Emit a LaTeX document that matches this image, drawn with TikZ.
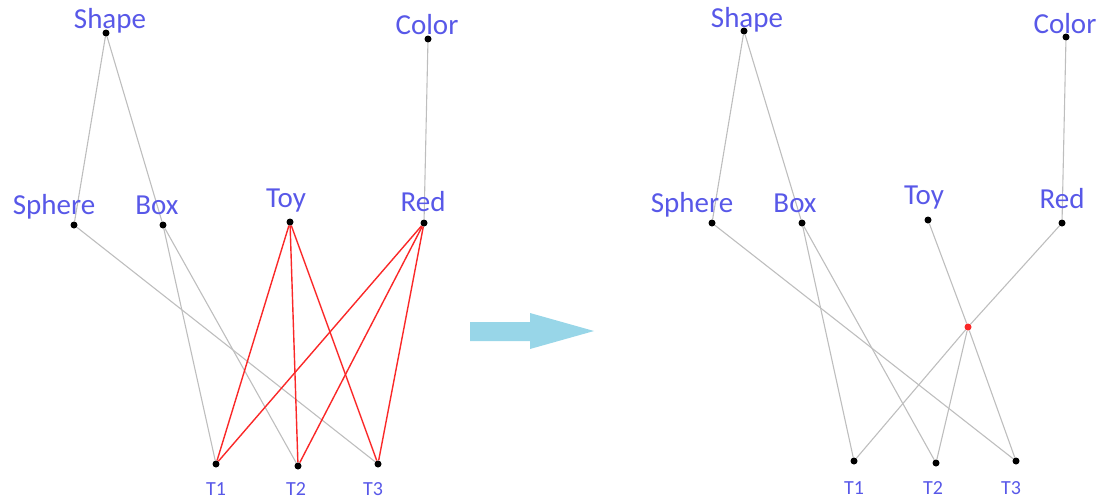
\documentclass[tikz,border=0pt]{standalone}
\usepackage{fontspec}
\setmainfont{Carlito}
\usetikzlibrary{backgrounds}
\definecolor{labelblue}{RGB}{88,88,232}
\definecolor{edgegray}{RGB}{190,190,190}
\definecolor{hotred}{RGB}{250,40,40}
\definecolor{arrowblue}{RGB}{152,214,232}
\tikzset{
  vert/.style={circle,fill=black,inner sep=0pt,minimum size=7pt},
  hub/.style={circle,fill=hotred,inner sep=0pt,minimum size=7pt},
  lab/.style={anchor=base,inner sep=0pt,text=labelblue,font=\fontsize{29}{31}\selectfont},
  tlab/.style={anchor=base,inner sep=0pt,text=labelblue,font=\fontsize{20}{22}\selectfont},
  link/.style={draw=edgegray,line width=1.1pt},
  hot/.style={draw=hotred,line width=1.4pt},
}
\begin{document}
\begin{tikzpicture}[x=1pt,y=-1pt]
\useasboundingbox (0,0) rectangle (1102,499);

% ---------- left graph ----------
\node[vert] (ashape)  at (106,33)  {};
\node[vert] (acolor)  at (428,39)  {};
\node[vert] (asphere) at (74,225)  {};
\node[vert] (abox)    at (163,225) {};
\node[vert] (atoy)    at (290,222) {};
\node[vert] (ared)    at (424,223) {};
\node[vert] (at1)     at (216,464) {};
\node[vert] (at2)     at (298,466) {};
\node[vert] (at3)     at (378,464) {};

\node[lab] (ashapel)  at (110,28)  {Shape};
\node[lab] (acolorl)  at (427,34)  {Color};
\node[lab] (aspherel) at (54,214)  {Sphere};
\node[lab] (aboxl)    at (157,214) {Box};
\node[lab] (atoyl)    at (286,207) {Toy};
\node[lab] (aredl)    at (423,211) {Red};
\node[tlab] (at1l)    at (216,495) {T1};
\node[tlab] (at2l)    at (296,495) {T2};
\node[tlab] (at3l)    at (373,495) {T3};

\begin{scope}[on background layer]
  \draw[link] (ashape) -- (asphere);
  \draw[link] (ashape) -- (abox);
  \draw[link] (acolor) -- (ared);
  \draw[link] (asphere) -- (at3);
  \draw[link] (abox) -- (at1);
  \draw[link] (abox) -- (at2);
  \draw[hot] (atoy) -- (at1);
  \draw[hot] (atoy) -- (at2);
  \draw[hot] (atoy) -- (at3);
  \draw[hot] (ared) -- (at1);
  \draw[hot] (ared) -- (at2);
  \draw[hot] (ared) -- (at3);
\end{scope}

% ---------- transformation arrow ----------
\fill[arrowblue] (470,322) -- (530,322) -- (530,313) -- (594,331)
  -- (530,349) -- (530,341) -- (470,341) -- cycle;

% ---------- right graph ----------
\node[vert] (bshape)  at (744,31)  {};
\node[vert] (bcolor)  at (1066,37) {};
\node[vert] (bsphere) at (712,223) {};
\node[vert] (bbox)    at (802,223) {};
\node[vert] (btoy)    at (928,220) {};
\node[vert] (bred)    at (1062,223) {};
\node[hub]  (bmid)    at (968,327) {};
\node[vert] (bt1)     at (854,461) {};
\node[vert] (bt2)     at (936,463) {};
\node[vert] (bt3)     at (1016,461) {};

\node[lab] (bshapel)  at (747,27)  {Shape};
\node[lab] (bcolorl)  at (1065,33) {Color};
\node[lab] (bspherel) at (692,212) {Sphere};
\node[lab] (bboxl)    at (795,212) {Box};
\node[lab] (btoyl)    at (924,204) {Toy};
\node[lab] (bredl)    at (1062,208) {Red};
\node[tlab] (bt1l)    at (854,494) {T1};
\node[tlab] (bt2l)    at (933,494) {T2};
\node[tlab] (bt3l)    at (1011,494) {T3};

\begin{scope}[on background layer]
  \draw[link] (bshape) -- (bsphere);
  \draw[link] (bshape) -- (bbox);
  \draw[link] (bcolor) -- (bred);
  \draw[link] (bsphere) -- (bt3);
  \draw[link] (bbox) -- (bt1);
  \draw[link] (bbox) -- (bt2);
  \draw[link] (btoy) -- (bmid);
  \draw[link] (bred) -- (bmid);
  \draw[link] (bmid) -- (bt1);
  \draw[link] (bmid) -- (bt2);
  \draw[link] (bmid) -- (bt3);
\end{scope}
\end{tikzpicture}
\end{document}
